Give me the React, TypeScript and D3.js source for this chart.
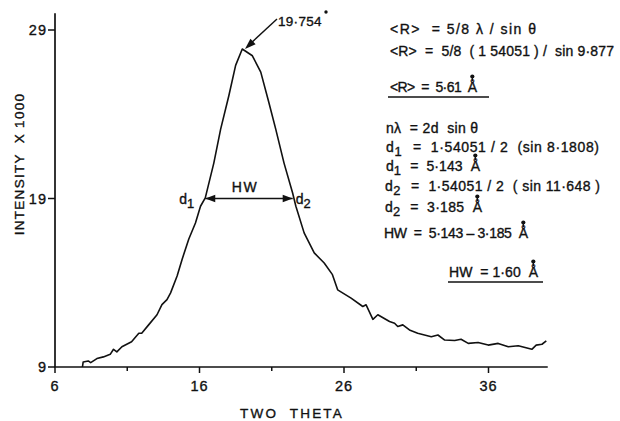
import React, { useEffect, useRef } from "react";
import * as d3 from "d3";

// ---- data ----
const twoTheta = [
  7.9, 7.95, 8.3, 8.47, 8.9, 9.35, 9.82, 10.05, 10.28, 10.63, 11.3, 11.8, 12.0, 12.48,
  13.06, 13.4, 13.75, 14.0, 14.45, 14.8, 15.26, 15.72, 16.07, 16.4, 16.99, 17.46, 18.03,
  18.5, 18.96, 19.66, 20.24, 20.8, 21.28, 21.85, 22.44, 22.67, 23.24, 23.94, 24.63, 25.2,
  25.56, 26.49, 27.3, 27.53, 28.0, 28.34, 29.15, 29.5, 29.72, 30.07, 30.53, 31.1, 32.04,
  32.5, 32.97, 33.66, 34.1, 34.6, 35.28, 35.98, 36.67, 37.37, 38.06, 39.0, 39.3, 39.7, 40.0,
];
const intensity = [
  9.0, 9.3, 9.36, 9.26, 9.5, 9.6, 9.75, 10.05, 9.9, 10.2, 10.5, 11.0, 11.0, 11.5,
  12.1, 12.7, 13.0, 13.4, 14.4, 15.4, 16.6, 17.55, 18.54, 19.04, 21.1, 23.1, 25.1,
  26.9, 27.87, 27.47, 26.5, 24.7, 23.1, 21.1, 19.34, 18.54, 16.96, 15.77, 15.17, 14.48,
  13.58, 13.09, 12.59, 12.69, 11.83, 12.1, 11.7, 11.6, 11.4, 11.5, 11.2, 11.0, 10.8,
  10.9, 10.6, 10.57, 10.65, 10.4, 10.45, 10.3, 10.4, 10.2, 10.26, 10.05, 10.3, 10.35, 10.55,
];
const xMajorTicks = [6, 16, 26, 36];
const xMinorTicks = [11, 21, 31];
const yTicks = [9, 19, 29];
const xTitle = "TWO  THETA";
const yTitle = "INTENSITY  X 1000";
const peakLabel = "19·754";
const hwLabel = "HW";
const d1Label = "d_1";
const d2Label = "d_2";
const hwLevel = 19;
const hwFrom = 16.4;
const hwTo = 22.45;
const formulaTexts = [
  "<R>  = 5/8 λ / sin θ",
  "<R>  =  5/8  ( 1 54051 ) /  sin 9·877",
  "<R>  =  5·61  Å",
  "nλ  = 2d  sin θ",
  "d_1  =  1·54051 / 2  (sin 8·1808)",
  "d_1  =  5·143  Å",
  "d_2  =  1·54051 / 2  ( sin 11·648 )",
  "d_2  =  3·185  Å",
  "HW  =  5·143 – 3·185  Å",
  "HW  = 1·60  Å",
];

// ---- layout (not data) ----
const W = 620;
const H = 421;
const FONT = "'Liberation Sans', Arial, sans-serif";
const formulaLayout = [
  { x: 390, y: 34, w: 146 },
  { x: 390, y: 56, w: 224 },
  { x: 390, y: 92, w: 87, ul: [388, 489] },
  { x: 386, y: 133, w: 92 },
  { x: 386, y: 152, w: 213 },
  { x: 386, y: 171, w: 94 },
  { x: 385, y: 191, w: 215 },
  { x: 385, y: 212, w: 97 },
  { x: 384, y: 238, w: 144 },
  { x: 449, y: 277, w: 89, ul: [448, 543] },
];

function addRich(sel: any, str: string, fs: number) {
  // "_c" => subscript char c
  const parts = str.split(/(_.)/);
  parts.forEach((p) => {
    if (!p) return;
    if (p.startsWith("_")) {
      sel.append("tspan").attr("dy", 4).attr("font-size", fs * 0.92).text(p.slice(1));
      sel.append("tspan").attr("dy", -4).text("\u200A");
    } else {
      sel.append("tspan").text(p);
    }
  });
}

export default function App() {
  const ref = useRef<SVGSVGElement>(null);

  useEffect(() => {
    const svg = d3.select(ref.current);
    svg.selectAll("*").remove();

    const x = d3.scaleLinear().domain([6, 36]).range([55, 488.5]);
    const y = d3.scaleLinear().domain([9, 29]).range([367, 30]);
    const xEnd = 40.1;
    const yTop = 30.0;

    svg.append("rect").attr("width", W).attr("height", H).attr("fill", "#fff");

    const g = svg.append("g").attr("font-family", FONT).attr("fill", "#111");

    // axes
    g.append("line")
      .attr("x1", x(6)).attr("x2", x(6))
      .attr("y1", y(9)).attr("y2", y(yTop))
      .attr("stroke", "#111").attr("stroke-width", 1.7);
    g.append("line")
      .attr("x1", x(6) - 1).attr("x2", x(xEnd))
      .attr("y1", y(9)).attr("y2", y(9))
      .attr("stroke", "#111").attr("stroke-width", 1.7);

    yTicks.forEach((t) => {
      g.append("line")
        .attr("x1", x(6) - 7).attr("x2", x(6))
        .attr("y1", y(t)).attr("y2", y(t))
        .attr("stroke", "#111").attr("stroke-width", 1.5);
      g.append("text")
        .attr("x", x(6) - 8).attr("y", y(t) + 5)
        .attr("text-anchor", "end").attr("font-size", 14.5)
        .attr("letter-spacing", 1)
        .text(String(t));
    });
    xMajorTicks.forEach((t) => {
      g.append("line")
        .attr("x1", x(t)).attr("x2", x(t))
        .attr("y1", y(9)).attr("y2", y(9) + 6)
        .attr("stroke", "#111").attr("stroke-width", 1.5);
      g.append("text")
        .attr("x", x(t)).attr("y", 391)
        .attr("text-anchor", "middle").attr("font-size", 14.5)
        .attr("letter-spacing", 1)
        .text(String(t));
    });
    xMinorTicks.forEach((t) => {
      g.append("line")
        .attr("x1", x(t)).attr("x2", x(t))
        .attr("y1", y(9)).attr("y2", y(9) + 4)
        .attr("stroke", "#111").attr("stroke-width", 1.5);
    });

    // titles
    g.append("text")
      .attr("x", 292).attr("y", 418)
      .attr("text-anchor", "middle").attr("font-size", 13.5)
      .attr("letter-spacing", 2.2)
      .style("white-space", "pre")
      .text(xTitle);
    g.append("text")
      .attr("transform", `translate(24,164) rotate(-90)`)
      .attr("text-anchor", "middle").attr("font-size", 13.5)
      .attr("letter-spacing", 1.3)
      .style("white-space", "pre")
      .text(yTitle);

    // curve
    const pts = twoTheta.map((t, i) => [t, intensity[i]] as [number, number]);
    const line = d3.line<[number, number]>().x((d) => x(d[0])).y((d) => y(d[1])).curve(d3.curveLinear);
    g.append("path")
      .attr("d", line(pts))
      .attr("fill", "none").attr("stroke", "#111")
      .attr("stroke-width", 1.6).attr("stroke-linejoin", "round");

    // arrowhead helper
    const arrowHead = (tx: number, ty: number, fx: number, fy: number, len: number, half: number) => {
      const a = Math.atan2(ty - fy, tx - fx);
      const bx = tx - len * Math.cos(a);
      const by = ty - len * Math.sin(a);
      const px = -Math.sin(a) * half;
      const py = Math.cos(a) * half;
      g.append("path")
        .attr("d", `M${tx},${ty}L${bx + px},${by + py}L${bx - px},${by - py}Z`)
        .attr("fill", "#111");
    };

    // HW double arrow
    const hy = y(hwLevel);
    const hx1 = x(hwFrom);
    const hx2 = x(hwTo);
    g.append("line").attr("x1", hx1).attr("x2", hx2).attr("y1", hy).attr("y2", hy)
      .attr("stroke", "#111").attr("stroke-width", 1.5);
    arrowHead(hx1, hy, hx2, hy, 10, 3.8);
    arrowHead(hx2, hy, hx1, hy, 10, 3.8);
    g.append("text").attr("x", (hx1 + hx2) / 2 - 4).attr("y", hy - 7)
      .attr("text-anchor", "middle").attr("font-size", 14).attr("letter-spacing", 1.5)
      .text(hwLabel);
    const d1t = g.append("text").attr("x", hx1 - 26).attr("y", hy + 5).attr("font-size", 14);
    addRich(d1t, d1Label, 14);
    const d2t = g.append("text").attr("x", hx2 + 3).attr("y", hy + 5).attr("font-size", 14);
    addRich(d2t, d2Label, 14);

    // peak label + arrow
    g.append("line").attr("x1", 277).attr("y1", 19).attr("x2", 250).attr("y2", 44)
      .attr("stroke", "#111").attr("stroke-width", 1.4);
    arrowHead(245, 49, 277, 19, 11, 3.8);
    g.append("text").attr("x", 278).attr("y", 26).attr("font-size", 13.5)
      .attr("letter-spacing", 0.3).text(peakLabel);
    g.append("circle").attr("cx", 326).attr("cy", 12).attr("r", 1.7).attr("fill", "#111");

    // formulas
    formulaTexts.forEach((s, i) => {
      const L = formulaLayout[i];
      const t = g.append("text")
        .attr("x", L.x).attr("y", L.y)
        .attr("font-size", 14)
        .attr("textLength", L.w).attr("lengthAdjust", "spacing")
        .style("white-space", "pre");
      addRich(t, s, 14);
      if (L.ul) {
        g.append("line").attr("x1", L.ul[0]).attr("x2", L.ul[1])
          .attr("y1", L.y + 5).attr("y2", L.y + 5)
          .attr("stroke", "#111").attr("stroke-width", 1.5);
      }
      // dot-on-stick above Å
      const node = t.node() as SVGTextElement;
      const full = node.textContent || "";
      const idx = full.indexOf("Å");
      if (idx >= 0) {
        try {
          const ext = node.getExtentOfChar(idx);
          const cx = ext.x + ext.width / 2;
          g.append("line").attr("x1", cx).attr("x2", cx)
            .attr("y1", L.y - 11).attr("y2", L.y - 15)
            .attr("stroke", "#111").attr("stroke-width", 1.4);
          g.append("circle").attr("cx", cx).attr("cy", L.y - 15.5).attr("r", 2.1).attr("fill", "#111");
        } catch (e) {}
      }
    });

    // slightly heavier lettering, like the inked original
    g.selectAll("text").attr("stroke", "#111").attr("stroke-width", 0.35);
  }, []);

  return (
    <svg
      ref={ref}
      width={W}
      height={H}
      style={{ position: "absolute", left: 0, top: 0, background: "#fff" }}
    />
  );
}
